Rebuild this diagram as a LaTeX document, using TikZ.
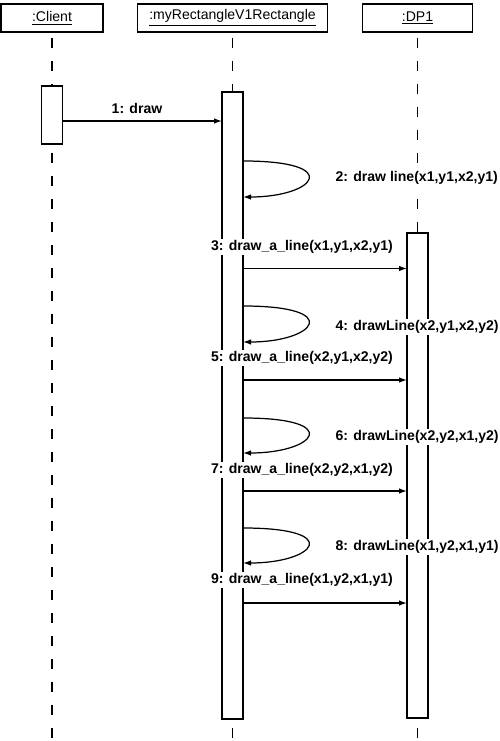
\documentclass[tikz,border=0pt]{standalone}
\usepackage{fontspec}
\setmainfont{Liberation Sans}
\usepackage{tikz}
\usetikzlibrary{arrows.meta}
\usetikzlibrary{backgrounds}
\pgfdeclarelayer{edgelayer}
\pgfdeclarelayer{nodelayer}
\pgfsetlayers{background,edgelayer,nodelayer,main}
\tikzstyle{none}=[inner sep=0mm]
\tikzstyle{obj}=[draw=black,fill=white,shape=rectangle,line width=0.7pt,minimum height=0.56cm,inner sep=0pt,font=\fontsize{8}{10}\selectfont]
\tikzstyle{act}=[draw=black,fill=white,shape=rectangle,line width=0.7pt,minimum width=0.42cm,inner sep=0pt]
\tikzstyle{msglabel}=[fill=white,inner sep=1pt,anchor=west,font=\fontsize{8}{10}\selectfont\bfseries]
\tikzstyle{lifeline}=[line width=0.7pt,dash pattern=on 2mm off 2.6mm,dash phase=-0.1cm]
\tikzstyle{msg}=[line width=0.7pt,-{Latex[length=1.6mm,width=1.1mm]}]

\begin{document}
\begin{tikzpicture}[font={\footnotesize}]
	\begin{pgfonlayer}{background}
		\fill [white] (0, 0) rectangle (10, -14.82);
	\end{pgfonlayer}
	\useasboundingbox (0, 0) rectangle (10, -14.82);
	\begin{pgfonlayer}{nodelayer}
		\node [style=obj, minimum width=2.04cm] (0) at (1.04, -0.36) {\underline{:Client}};
		\node [style=obj, minimum width=3.8cm] (1) at (4.65, -0.36) {\underline{:myRectangleV1Rectangle}};
		\node [style=obj, minimum width=2.2cm] (2) at (8.35, -0.36) {\underline{:DP1}};
		\node [style=act, minimum height=1.16cm] (3) at (1.04, -2.3) {};
		\node [style=act, minimum height=12.54cm] (4) at (4.65, -8.11) {};
		\node [style=act, minimum height=9.7cm] (5) at (8.35, -9.51) {};
		\node [style=none] (6) at (1.04, -14.82) {};
		\node [style=none] (7) at (4.65, -14.82) {};
		\node [style=none] (8) at (8.35, -14.82) {};
		\node [style=none] (10) at (1.25, -2.42) {};
		\node [style=none] (11) at (4.44, -2.42) {};
		\node [style=none] (12) at (4.86, -3.22) {};
		\node [style=none] (13) at (4.86, -3.94) {};
		\node [style=none] (14) at (4.86, -5.37) {};
		\node [style=none] (15) at (8.14, -5.37) {};
		\node [style=none] (16) at (4.86, -6.12) {};
		\node [style=none] (17) at (4.86, -6.84) {};
		\node [style=none] (18) at (4.86, -7.6) {};
		\node [style=none] (19) at (8.14, -7.6) {};
		\node [style=none] (20) at (4.86, -8.36) {};
		\node [style=none] (21) at (4.86, -9.06) {};
		\node [style=none] (22) at (4.86, -9.82) {};
		\node [style=none] (23) at (8.14, -9.82) {};
		\node [style=none] (24) at (4.86, -10.56) {};
		\node [style=none] (25) at (4.86, -11.26) {};
		\node [style=none] (26) at (4.86, -12.06) {};
		\node [style=none] (27) at (8.14, -12.06) {};
	\end{pgfonlayer}
	\begin{pgfonlayer}{edgelayer}
		\draw [style=lifeline] (0.south) to (6.center);
		\draw [style=lifeline] (1.south) to (7.center);
		\draw [style=lifeline] (2.south) to (8.center);
		\draw [style=msg] (10.center) to (11.center);
		\draw [style=msg] (12.center) .. controls (6.9, -3.22) and (6.3, -3.94) .. (13.center);
		\draw [style=msg] (14.center) to (15.center);
		\draw [style=msg] (16.center) .. controls (6.9, -6.12) and (6.3, -6.84) .. (17.center);
		\draw [style=msg] (18.center) to (19.center);
		\draw [style=msg] (20.center) .. controls (6.9, -8.36) and (6.3, -9.06) .. (21.center);
		\draw [style=msg] (22.center) to (23.center);
		\draw [style=msg] (24.center) .. controls (6.9, -10.56) and (6.3, -11.26) .. (25.center);
		\draw [style=msg] (26.center) to (27.center);
	\end{pgfonlayer}
	\node [style=msglabel, anchor=center] (30) at (2.74, -2.16) {1: draw};
	\node [style=msglabel] (31) at (6.67, -3.56) {2: draw line(x1,y1,x2,y1)};
	\node [style=msglabel] (32) at (4.18, -4.94) {3: draw\_a\_line(x1,y1,x2,y1)};
	\node [style=msglabel] (33) at (6.67, -6.54) {4: drawLine(x2,y1,x2,y2)};
	\node [style=msglabel] (34) at (4.18, -7.16) {5: draw\_a\_line(x2,y1,x2,y2)};
	\node [style=msglabel] (35) at (6.67, -8.74) {6: drawLine(x2,y2,x1,y2)};
	\node [style=msglabel] (36) at (4.18, -9.4) {7: draw\_a\_line(x2,y2,x1,y2)};
	\node [style=msglabel] (37) at (6.67, -10.94) {8: drawLine(x1,y2,x1,y1)};
	\node [style=msglabel] (38) at (4.18, -11.6) {9: draw\_a\_line(x1,y2,x1,y1)};
\end{tikzpicture}
\end{document}
